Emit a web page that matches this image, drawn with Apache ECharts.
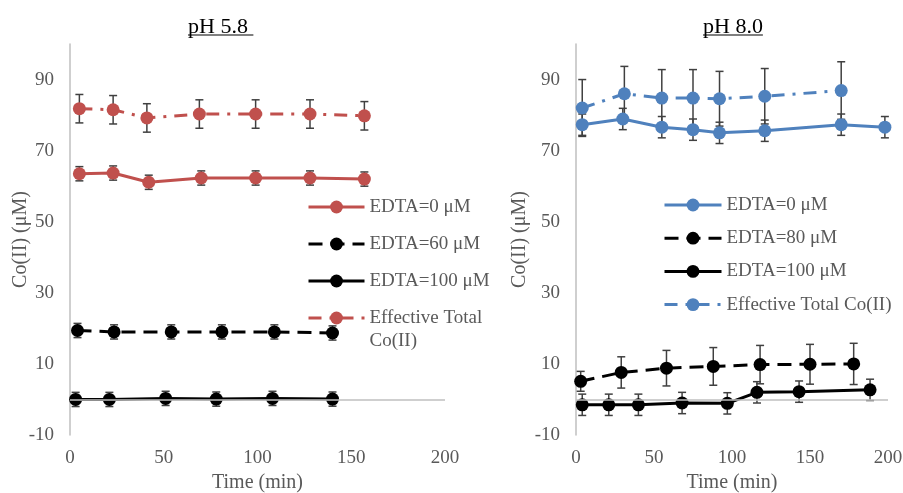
<!DOCTYPE html>
<html>
<head>
<meta charset="utf-8">
<title>Co(II) vs time</title>
<script src="https://cdn.jsdelivr.net/npm/echarts@6/dist/echarts.min.js"></script>
<style>
  html, body { margin: 0; padding: 0; background: #ffffff; }
  #wrap { position: relative; width: 903px; height: 493px; }
  .panel { position: absolute; left: 0; top: 0; width: 903px; height: 493px; }
</style>
</head>
<body>
<div id="wrap">
  <div id="acid" class="panel"></div>
  <div id="alk" class="panel"></div>
</div>
<script>
// ---------- pH 5.8 ----------
const acidTitle = 'pH 5.8 ';
const acidTime0 = [5, 23, 42, 70, 99, 128, 157];
const acidEdta0 = [63.5, 63.7, 61.1, 62.3, 62.3, 62.3, 62.0];
const acidEdta0Err = [2, 2, 2, 2, 2, 2, 2];
const acidTime60 = [4, 23.5, 54, 81, 109, 140];
const acidEdta60 = [19.4, 19.0, 19.0, 19.0, 19.0, 18.7];
const acidEdta60Err = [2, 2, 2, 2, 2, 2];
const acidTime100 = [3, 21, 51, 78, 108, 140];
const acidEdta100 = [0, 0, 0.3, 0.1, 0.3, 0.1];
const acidEdta100Err = [2, 2, 2, 2, 2, 2];
const acidTimeTotal = [5, 23, 41, 69, 99, 128, 157];
const acidTotal = [81.8, 81.5, 79.2, 80.3, 80.3, 80.3, 79.8];
const acidTotalErr = [4, 4, 4, 4, 4, 4, 4];

// ---------- pH 8.0 ----------
const alkTitle = 'pH 8.0';
const alkTime0 = [4, 30, 55, 75, 92, 121, 170, 198];
const alkEdta0 = [77.3, 78.9, 76.6, 75.9, 75.0, 75.6, 77.3, 76.6];
const alkEdta0Err = [3, 3, 3, 3, 3, 3, 3, 3];
const alkTime80 = [3, 29, 58, 88, 118, 150, 178];
const alkEdta80 = [5.1, 7.6, 8.8, 9.3, 9.8, 9.9, 10.0];
const alkEdta80Err = [2.8, 4.4, 5, 5.3, 5.4, 5.6, 5.8];
const alkTime100 = [4, 21, 40, 68, 97, 116, 143, 188.5];
const alkEdta100 = [-1.5, -1.5, -1.5, -1.0, -1.1, 2.0, 2.2, 2.7];
const alkEdta100Err = [3, 3, 3, 3, 3, 3, 3, 3];
const alkTimeTotal = [4, 31, 55, 75, 92, 121, 170];
const alkTotal = [82.0, 86.0, 84.8, 84.8, 84.6, 85.3, 86.9];
const alkTotalErr = [8, 7.7, 8, 8, 7.7, 7.8, 8.1];

// ---------- axes ----------
const timeTicks = { min: 0, max: 200, interval: 50 };
const concTicks = { min: -10, max: 100, interval: 20 };

const FONT = "'Liberation Serif', 'Times New Roman', serif";
const GRAY = '#595959';
const AXIS_GRAY = '#bfbfbf';
const RED = '#C0504D';
const BLUE = '#4F81BD';
const BLACK = '#000000';
const DASH = [14, 8];
const DASH_DOT = [13, 8, 3, 8];

function pairs(xs, ys) { return xs.map((x, i) => [x, ys[i]]); }
function triples(xs, ys, es) { return xs.map((x, i) => [x, ys[i], es[i]]); }

function lineSeries(name, xs, ys, color, dash) {
  return {
    type: 'line', name: name, data: pairs(xs, ys), z: 3,
    symbol: 'circle', symbolSize: 13, showSymbol: true,
    itemStyle: { color: color },
    lineStyle: { color: color, width: 3, type: dash || 'solid' },
    emphasis: { disabled: true }
  };
}

// vertical error bar with caps, placed through the grid's own scales
function errorBar(params, api) {
  const x = api.value(0), y = api.value(1), e = api.value(2);
  const hi = api.coord([x, y + e]);
  const lo = api.coord([x, y - e]);
  const half = 4;
  const style = { stroke: '#404040', lineWidth: 1.5, fill: null };
  return {
    type: 'group',
    children: [
      { type: 'line', shape: { x1: hi[0], y1: hi[1], x2: lo[0], y2: lo[1] }, style: style },
      { type: 'line', shape: { x1: hi[0] - half, y1: hi[1], x2: hi[0] + half, y2: hi[1] }, style: style },
      { type: 'line', shape: { x1: lo[0] - half, y1: lo[1], x2: lo[0] + half, y2: lo[1] }, style: style }
    ]
  };
}

function errorSeries(name, xs, ys, es) {
  return {
    type: 'custom', name: name, data: triples(xs, ys, es), z: 2,
    encode: { x: 0, y: 1 }, renderItem: errorBar, silent: true
  };
}

// horizontal reference line at Co(II) = 0
function zeroLine() {
  return {
    type: 'line', name: 'zero', data: [], silent: true, z: 1,
    markLine: {
      silent: true, symbol: 'none', animation: false,
      label: { show: false },
      lineStyle: { color: AXIS_GRAY, width: 1.5, type: 'solid' },
      data: [{ yAxis: 0 }]
    }
  };
}

function measure(text, font) {
  const ctx = document.createElement('canvas').getContext('2d');
  ctx.font = font;
  return ctx.measureText(text).width;
}

// underlined panel heading
function titleGraphic(text, x) {
  const font = '22px ' + FONT;
  const w = measure(text, font);
  return [
    { type: 'text', x: x, y: 27, style: { text: text, font: font, fill: '#000', align: 'left', verticalAlign: 'middle' } },
    { type: 'line', shape: { x1: x, y1: 35, x2: x + w, y2: 35 }, style: { stroke: '#000', lineWidth: 1.2 } }
  ];
}

const legendText = { color: GRAY, fontSize: 19, fontFamily: FONT, lineHeight: 22 };
const legendLine = { width: 3 };

function axes(yNameGap) {
  return {
    xAxis: {
      type: 'value', min: timeTicks.min, max: timeTicks.max, interval: timeTicks.interval,
      name: 'Time (min)', nameLocation: 'middle', nameGap: 38, nameMoveOverlap: false,
      nameTextStyle: { color: GRAY, fontSize: 20, fontFamily: FONT },
      axisLine: { show: false }, axisTick: { show: false }, splitLine: { show: false },
      axisLabel: { color: GRAY, fontSize: 19, fontFamily: FONT, margin: 14 }
    },
    yAxis: {
      type: 'value', min: concTicks.min, max: concTicks.max, interval: concTicks.interval,
      name: 'Co(II) (μM)', nameLocation: 'middle', nameGap: yNameGap, nameMoveOverlap: false,
      nameTextStyle: { color: GRAY, fontSize: 20, fontFamily: FONT },
      axisLine: { show: true, lineStyle: { color: AXIS_GRAY, width: 1.5 } },
      axisTick: { show: false }, splitLine: { show: false },
      axisLabel: { color: GRAY, fontSize: 19, fontFamily: FONT, margin: 16, showMaxLabel: false }
    }
  };
}

// ---------- left panel ----------
const acidNames = ['EDTA=0 μM', 'EDTA=60 μM', 'EDTA=100 μM', 'Effective Total Co(II)'];
const acidChart = echarts.init(document.getElementById('acid'), null, { renderer: 'canvas' });
acidChart.setOption(Object.assign({
  animation: false,
  backgroundColor: 'transparent',
  textStyle: { fontFamily: FONT },
  grid: { left: 70, right: 458, top: 44, bottom: 58, outerBoundsMode: 'none' },
  graphic: titleGraphic(acidTitle, 188),
  legend: [
    {
      orient: 'vertical', left: 302, top: 191, itemGap: 15,
      itemWidth: 56, itemHeight: 16, selectedMode: false,
      textStyle: legendText, lineStyle: legendLine,
      data: acidNames.slice(0, 3)
    },
    {
      orient: 'vertical', left: 302, top: 278.5,
      itemWidth: 56, itemHeight: 16, selectedMode: false,
      textStyle: Object.assign({}, legendText, { lineHeight: 23 }),
      lineStyle: legendLine,
      // empty first line keeps the symbol level with "Effective Total"
      formatter: function (n) { return '\n' + n.replace(' Co(II)', '\nCo(II)'); },
      data: acidNames.slice(3)
    }
  ],
  series: [
    zeroLine(),
    lineSeries(acidNames[0], acidTime0, acidEdta0, RED),
    lineSeries(acidNames[1], acidTime60, acidEdta60, BLACK, DASH),
    lineSeries(acidNames[2], acidTime100, acidEdta100, BLACK),
    lineSeries(acidNames[3], acidTimeTotal, acidTotal, RED, DASH_DOT),
    errorSeries(acidNames[0], acidTime0, acidEdta0, acidEdta0Err),
    errorSeries(acidNames[1], acidTime60, acidEdta60, acidEdta60Err),
    errorSeries(acidNames[2], acidTime100, acidEdta100, acidEdta100Err),
    errorSeries(acidNames[3], acidTimeTotal, acidTotal, acidTotalErr)
  ]
}, axes(39)));

// ---------- right panel ----------
const alkNames = ['EDTA=0 μM', 'EDTA=80 μM', 'EDTA=100 μM', 'Effective Total Co(II)'];
const alkChart = echarts.init(document.getElementById('alk'), null, { renderer: 'canvas' });
alkChart.setOption(Object.assign({
  animation: false,
  backgroundColor: 'transparent',
  textStyle: { fontFamily: FONT },
  grid: { left: 576, right: 15, top: 44, bottom: 58, outerBoundsMode: 'none' },
  graphic: titleGraphic(alkTitle, 703),
  legend: {
    orient: 'vertical', left: 658, top: 189, itemGap: 11.2,
    itemWidth: 57, itemHeight: 16, selectedMode: false,
    textStyle: legendText, lineStyle: legendLine,
    data: alkNames
  },
  series: [
    zeroLine(),
    lineSeries(alkNames[0], alkTime0, alkEdta0, BLUE),
    lineSeries(alkNames[1], alkTime80, alkEdta80, BLACK, DASH),
    lineSeries(alkNames[2], alkTime100, alkEdta100, BLACK),
    lineSeries(alkNames[3], alkTimeTotal, alkTotal, BLUE, DASH_DOT),
    errorSeries(alkNames[0], alkTime0, alkEdta0, alkEdta0Err),
    errorSeries(alkNames[1], alkTime80, alkEdta80, alkEdta80Err),
    errorSeries(alkNames[2], alkTime100, alkEdta100, alkEdta100Err),
    errorSeries(alkNames[3], alkTimeTotal, alkTotal, alkTotalErr)
  ]
}, axes(46)));
</script>
</body>
</html>
